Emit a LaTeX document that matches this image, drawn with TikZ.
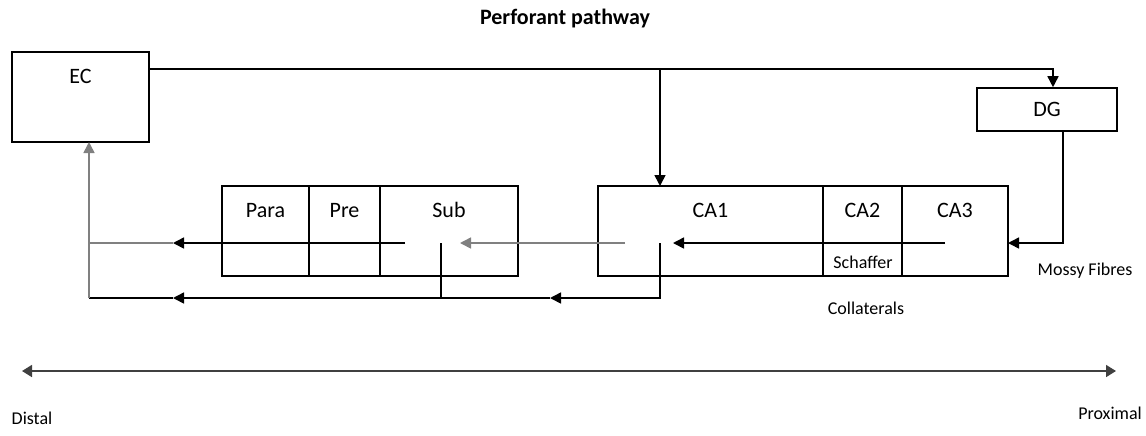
\documentclass[tikz,border=0pt]{standalone}
\usepackage{fontspec}
\setmainfont{Carlito}
\usetikzlibrary{arrows.meta,positioning}
\colorlet{fibregray}{black!50}

\begin{document}
\begin{tikzpicture}[
            x=0.5pt, y=-0.5pt,
            every node/.append style={black},
            region/.style={draw, thick, inner sep=0pt, outer sep=0pt,
                font=\fontsize{11}{13}\selectfont,
                text height=15.5pt, text depth=29.5pt, minimum width=#1},
            smalltext/.style={font=\fontsize{9}{11}\selectfont},
            fibre/.style={thick, -{Triangle[length=5.5pt,width=5.5pt]}},
            plain/.style={thick}
        ]
            \useasboundingbox (0,0) rectangle (1146,435);

            \node [font=\bfseries\fontsize{11}{13}\selectfont] (title) at (565,19) {Perforant pathway};

            \node [region=68.5pt, anchor=north west] (ec) at (12,52) {EC};
            \node [draw, thick, minimum width=70pt, minimum height=21.5pt,
                font=\fontsize{11}{13}\selectfont] (dg) at (1047,109.5) {DG};

            \node [region=43.5pt, anchor=north west] (para) at (222,186) {Para};
            \node [region=35.5pt, right=0pt of para] (pre) {Pre};
            \node [region=69pt, right=0pt of pre] (sub) {Sub};

            \node [region=112.5pt, anchor=north west] (ca1) at (598,186) {CA1};
            \node [region=39.5pt, right=0pt of ca1] (ca2) {CA2};
            \node [region=53pt, right=0pt of ca2] (ca3) {CA3};

            \node [smalltext] (schaffer) at (863,262) {Schaffer};
            \node [smalltext] (collaterals) at (866,308) {Collaterals};
            \node [smalltext] (mossy) at (1085,271) {Mossy Fibres};

            \coordinate (ppstart) at ([yshift=-8.5pt]ec.north east);
            \coordinate (ppbranch) at (660,69);
            \coordinate (ca3out) at (945,243);
            \coordinate (ca1in) at (673,243);
            \coordinate (ca1out) at (625,243);
            \coordinate (ca1drop) at (660,243);
            \coordinate (subin) at (460,243);
            \coordinate (subout) at (405,243);
            \coordinate (subdrop) at (441,243);
            \coordinate (outmid) at (173,243);
            \coordinate (outcorner) at (89,243);
            \coordinate (colmid) at (550,298);
            \coordinate (colleft) at (173,298);
            \coordinate (colcorner) at (89,298);
            \coordinate (ecin) at ([xshift=4.25pt]ec.south);

            \draw [fibre] (ppstart) -| ([xshift=3pt]dg.north);
            \draw [fibre] (ppbranch) -- (ppbranch |- ca1.north);

            \draw [fibre] ([xshift=8pt]dg.south) |- (ca3.east |- ca3out);
            \draw [fibre] (ca3out) -- (ca1in);
            \draw [fibre,fibregray] (ca1out) -- (subin);
            \draw [fibre] (subout) -- (outmid);
            \draw [plain,fibregray] (outmid) -- (outcorner);

            \draw [fibre] (ca1drop) |- (colmid);
            \draw [fibre] (colmid) -- (colleft);
            \draw [plain] (subdrop) -- (subdrop |- colleft);
            \draw [plain] (colleft) -- (colcorner);
            \draw [fibre,fibregray] (colcorner) -- (ecin);

            \node [smalltext] (distal) at (32,418) {Distal};
            \node [smalltext] (proximal) at (1110,413) {Proximal};
            \coordinate (distalend) at (22,371);
            \coordinate (proximalend) at (1116,371);
            \draw [thick, black!75, {Triangle[length=5pt,width=6pt]}-{Triangle[length=5pt,width=6pt]}]
                (distalend) -- (proximalend);
        \end{tikzpicture}
\end{document}
